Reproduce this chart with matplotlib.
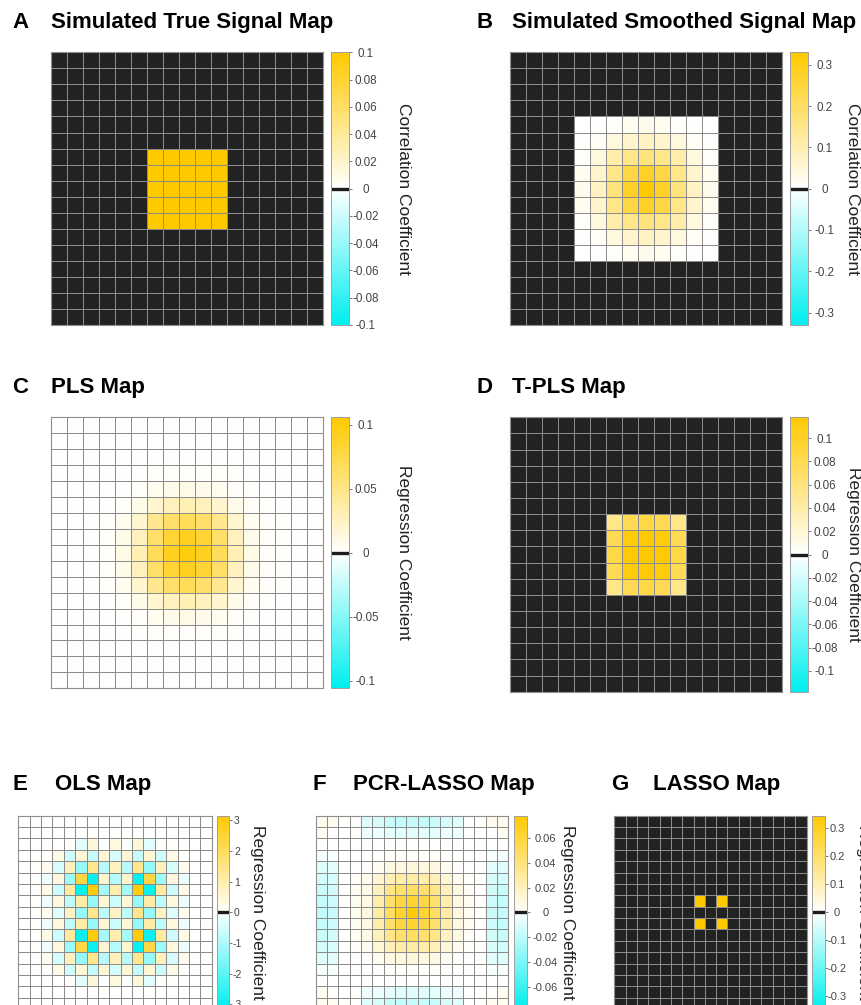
import numpy as np
import matplotlib
matplotlib.use("Agg")
import matplotlib.pyplot as plt
from matplotlib.colors import LinearSegmentedColormap, Normalize
from matplotlib.cm import ScalarMappable

# ---------------- data (17 x 17 maps) ----------------
A_MAP = [
 [0,0,0,0,0,0,0,0,0,0,0,0,0,0,0,0,0],
 [0,0,0,0,0,0,0,0,0,0,0,0,0,0,0,0,0],
 [0,0,0,0,0,0,0,0,0,0,0,0,0,0,0,0,0],
 [0,0,0,0,0,0,0,0,0,0,0,0,0,0,0,0,0],
 [0,0,0,0,0,0,0,0,0,0,0,0,0,0,0,0,0],
 [0,0,0,0,0,0,0,0,0,0,0,0,0,0,0,0,0],
 [0,0,0,0,0,0,.1,.1,.1,.1,.1,0,0,0,0,0,0],
 [0,0,0,0,0,0,.1,.1,.1,.1,.1,0,0,0,0,0,0],
 [0,0,0,0,0,0,.1,.1,.1,.1,.1,0,0,0,0,0,0],
 [0,0,0,0,0,0,.1,.1,.1,.1,.1,0,0,0,0,0,0],
 [0,0,0,0,0,0,.1,.1,.1,.1,.1,0,0,0,0,0,0],
 [0,0,0,0,0,0,0,0,0,0,0,0,0,0,0,0,0],
 [0,0,0,0,0,0,0,0,0,0,0,0,0,0,0,0,0],
 [0,0,0,0,0,0,0,0,0,0,0,0,0,0,0,0,0],
 [0,0,0,0,0,0,0,0,0,0,0,0,0,0,0,0,0],
 [0,0,0,0,0,0,0,0,0,0,0,0,0,0,0,0,0],
 [0,0,0,0,0,0,0,0,0,0,0,0,0,0,0,0,0],
]

B_MAP = [
 [0,0,0,0,0,0,0,0,0,0,0,0,0,0,0,0,0],
 [0,0,0,0,0,0,0,0,0,0,0,0,0,0,0,0,0],
 [0,0,0,0,0,0,0,0,0,0,0,0,0,0,0,0,0],
 [0,0,0,0,0,0,0,0,0,0,0,0,0,0,0,0,0],
 [0,0,0,0,.002,.004,.008,.020,.025,.020,.008,.004,.002,0,0,0,0],
 [0,0,0,0,.004,.015,.045,.065,.075,.065,.045,.015,.004,0,0,0,0],
 [0,0,0,0,.008,.045,.110,.150,.170,.150,.110,.045,.008,0,0,0,0],
 [0,0,0,0,.020,.065,.150,.240,.280,.240,.150,.065,.020,0,0,0,0],
 [0,0,0,0,.025,.075,.170,.280,.330,.280,.170,.075,.025,0,0,0,0],
 [0,0,0,0,.020,.065,.150,.240,.280,.240,.150,.065,.020,0,0,0,0],
 [0,0,0,0,.008,.045,.110,.150,.170,.150,.110,.045,.008,0,0,0,0],
 [0,0,0,0,.004,.015,.045,.065,.075,.065,.045,.015,.004,0,0,0,0],
 [0,0,0,0,.002,.004,.008,.020,.025,.020,.008,.004,.002,0,0,0,0],
 [0,0,0,0,0,0,0,0,0,0,0,0,0,0,0,0,0],
 [0,0,0,0,0,0,0,0,0,0,0,0,0,0,0,0,0],
 [0,0,0,0,0,0,0,0,0,0,0,0,0,0,0,0,0],
 [0,0,0,0,0,0,0,0,0,0,0,0,0,0,0,0,0],
]

C_MAP = [
 [.001,.001,.001,.001,.001,.001,.001,.001,.001,.001,.001,.001,.001,.001,.001,.001,.001],
 [.001,.001,.001,.001,.001,.001,.001,.001,.001,.001,.001,.001,.001,.001,.001,.001,.001],
 [.001,.001,.001,.001,.001,.001,.001,.001,.001,.001,.001,.001,.001,.001,.001,.001,.001],
 [.001,.001,.001,.001,.001,.001,.002,.002,.002,.002,.002,.001,.001,.001,.001,.001,.001],
 [.001,.001,.001,.001,.001,.003,.006,.009,.010,.009,.006,.003,.001,.001,.001,.001,.001],
 [.001,.001,.001,.001,.003,.009,.020,.027,.030,.027,.020,.009,.003,.001,.001,.001,.001],
 [.001,.001,.001,.002,.006,.020,.046,.062,.068,.062,.046,.020,.006,.002,.001,.001,.001],
 [.001,.001,.001,.003,.009,.027,.062,.084,.092,.084,.062,.027,.009,.003,.001,.001,.001],
 [.001,.001,.001,.003,.010,.030,.068,.092,.100,.092,.068,.030,.010,.003,.001,.001,.001],
 [.001,.001,.001,.003,.009,.027,.062,.084,.092,.084,.062,.027,.009,.003,.001,.001,.001],
 [.001,.001,.001,.002,.006,.020,.046,.062,.068,.062,.046,.020,.006,.002,.001,.001,.001],
 [.001,.001,.001,.001,.003,.009,.020,.027,.030,.027,.020,.009,.003,.001,.001,.001,.001],
 [.001,.001,.001,.001,.001,.003,.006,.009,.010,.009,.006,.003,.001,.001,.001,.001,.001],
 [.001,.001,.001,.001,.001,.001,.002,.002,.002,.002,.002,.001,.001,.001,.001,.001,.001],
 [.001,.001,.001,.001,.001,.001,.001,.001,.001,.001,.001,.001,.001,.001,.001,.001,.001],
 [.001,.001,.001,.001,.001,.001,.001,.001,.001,.001,.001,.001,.001,.001,.001,.001,.001],
 [.001,.001,.001,.001,.001,.001,.001,.001,.001,.001,.001,.001,.001,.001,.001,.001,.001],
]

D_MAP = [
 [0,0,0,0,0,0,0,0,0,0,0,0,0,0,0,0,0],
 [0,0,0,0,0,0,0,0,0,0,0,0,0,0,0,0,0],
 [0,0,0,0,0,0,0,0,0,0,0,0,0,0,0,0,0],
 [0,0,0,0,0,0,0,0,0,0,0,0,0,0,0,0,0],
 [0,0,0,0,0,0,0,0,0,0,0,0,0,0,0,0,0],
 [0,0,0,0,0,0,0,0,0,0,0,0,0,0,0,0,0],
 [0,0,0,0,0,0,.055,.080,.085,.080,.055,0,0,0,0,0,0],
 [0,0,0,0,0,0,.080,.112,.116,.112,.080,0,0,0,0,0,0],
 [0,0,0,0,0,0,.085,.116,.118,.116,.085,0,0,0,0,0,0],
 [0,0,0,0,0,0,.080,.112,.116,.112,.080,0,0,0,0,0,0],
 [0,0,0,0,0,0,.055,.080,.085,.080,.055,0,0,0,0,0,0],
 [0,0,0,0,0,0,0,0,0,0,0,0,0,0,0,0,0],
 [0,0,0,0,0,0,0,0,0,0,0,0,0,0,0,0,0],
 [0,0,0,0,0,0,0,0,0,0,0,0,0,0,0,0,0],
 [0,0,0,0,0,0,0,0,0,0,0,0,0,0,0,0,0],
 [0,0,0,0,0,0,0,0,0,0,0,0,0,0,0,0,0],
 [0,0,0,0,0,0,0,0,0,0,0,0,0,0,0,0,0],
]

E_MAP = [
 [0,0,0,0,0,0,0,0,0,0,0,0,0,0,0,0,0],
 [0,0,0,0,0,0,0,0,0,0,0,0,0,0,0,0,0],
 [0,0,0,0,0.05,-0.35,0.45,-0.05,0.35,-0.05,0.45,-0.35,0.05,0,0,0,0],
 [0,0,0,0.3,-0.6,0.5,-0.7,0.5,-0.5,0.5,-0.7,0.5,-0.6,0.3,0,0,0],
 [0,0,0.2,-0.5,0.8,-1.3,1.4,-0.9,0.8,-0.9,1.4,-1.3,0.8,-0.5,0.2,0,0],
 [0,0,-0.2,0.4,-1.2,2.3,-3.0,0.6,-0.9,0.6,-3.0,2.3,-1.2,0.4,-0.2,0,0],
 [0,0,0.3,-0.6,1.2,-3.0,3.0,-1.1,1.0,-1.1,3.0,-3.0,1.2,-0.6,0.3,0,0],
 [0,0,-0.2,0.4,-0.8,1.1,-1.3,0.5,-0.6,0.5,-1.3,1.1,-0.8,0.4,-0.2,0,0],
 [0,0,0.2,-0.4,0.7,-1.3,1.4,-0.8,0.7,-0.8,1.4,-1.3,0.7,-0.4,0.2,0,0],
 [0,0,-0.2,0.4,-0.8,1.1,-1.3,0.5,-0.6,0.5,-1.3,1.1,-0.8,0.4,-0.2,0,0],
 [0,0,0.3,-0.6,1.2,-3.0,3.0,-1.1,1.0,-1.1,3.0,-3.0,1.2,-0.6,0.3,0,0],
 [0,0,-0.2,0.4,-1.2,2.3,-3.0,0.6,-0.9,0.6,-3.0,2.3,-1.2,0.4,-0.2,0,0],
 [0,0,0.2,-0.5,0.8,-1.3,1.4,-0.9,0.8,-0.9,1.4,-1.3,0.8,-0.5,0.2,0,0],
 [0,0,0,0.3,-0.6,0.5,-0.7,0.5,-0.5,0.5,-0.7,0.5,-0.6,0.3,0,0,0],
 [0,0,0,0,0.05,-0.35,0.45,-0.05,0.35,-0.05,0.45,-0.35,0.05,0,0,0,0],
 [0,0,0,0,0,0,0,0,0,0,0,0,0,0,0,0,0],
 [0,0,0,0,0,0,0,0,0,0,0,0,0,0,0,0,0],
]

F_MAP = [
 [.005,.005,.0005,.0005,-.010,-.012,-.016,-.018,-.018,-.018,-.016,-.012,-.010,.0005,.0005,.005,.005],
 [.004,.001,.0005,.0005,-.005,-.006,-.008,-.009,-.009,-.009,-.008,-.006,-.005,.0005,.0005,.001,.004],
 [0,0,0,0,0,0,0,0,0,0,0,0,0,0,0,0,0],
 [-.003,-.002,0,.0005,.0005,.001,.002,.002,.002,.002,.002,.001,.0005,.0005,0,-.002,-.003],
 [-.010,-.008,0,0,.001,.004,.008,.010,.011,.010,.008,.004,.001,0,0,-.008,-.010],
 [-.013,-.012,0,.002,.005,.013,.021,.026,.028,.026,.021,.013,.005,.002,0,-.012,-.013],
 [-.016,-.014,0,.003,.008,.020,.036,.044,.048,.044,.036,.020,.008,.003,0,-.014,-.016],
 [-.018,-.015,0,.004,.009,.026,.044,.057,.063,.057,.044,.026,.009,.004,0,-.015,-.018],
 [-.018,-.016,0,.004,.010,.028,.048,.063,.075,.063,.048,.028,.010,.004,0,-.016,-.018],
 [-.018,-.015,0,.004,.009,.026,.044,.057,.063,.057,.044,.026,.009,.004,0,-.015,-.018],
 [-.016,-.014,0,.003,.008,.020,.036,.044,.048,.044,.036,.020,.008,.003,0,-.014,-.016],
 [-.013,-.012,0,.002,.005,.013,.021,.026,.028,.026,.021,.013,.005,.002,0,-.012,-.013],
 [-.010,-.008,0,0,.001,.004,.008,.010,.011,.010,.008,.004,.001,0,0,-.008,-.010],
 [-.003,-.002,0,.0005,.0005,.001,.002,.002,.002,.002,.002,.001,.0005,.0005,0,-.002,-.003],
 [0,0,0,0,0,0,0,0,0,0,0,0,0,0,0,0,0],
 [.004,.001,.0005,.0005,-.005,-.006,-.008,-.009,-.009,-.009,-.008,-.006,-.005,.0005,.0005,.001,.004],
 [.005,.005,.0005,.0005,-.010,-.012,-.016,-.018,-.018,-.018,-.016,-.012,-.010,.0005,.0005,.005,.005],
]

G_MAP = [
 [0,0,0,0,0,0,0,0,0,0,0,0,0,0,0,0,0],
 [0,0,0,0,0,0,0,0,0,0,0,0,0,0,0,0,0],
 [0,0,0,0,0,0,0,0,0,0,0,0,0,0,0,0,0],
 [0,0,0,0,0,0,0,0,0,0,0,0,0,0,0,0,0],
 [0,0,0,0,0,0,0,0,0,0,0,0,0,0,0,0,0],
 [0,0,0,0,0,0,0,0,0,0,0,0,0,0,0,0,0],
 [0,0,0,0,0,0,0,0,0,0,0,0,0,0,0,0,0],
 [0,0,0,0,0,0,0,.345,0,.345,0,0,0,0,0,0,0],
 [0,0,0,0,0,0,0,0,0,0,0,0,0,0,0,0,0],
 [0,0,0,0,0,0,0,.345,0,.345,0,0,0,0,0,0,0],
 [0,0,0,0,0,0,0,0,0,0,0,0,0,0,0,0,0],
 [0,0,0,0,0,0,0,0,0,0,0,0,0,0,0,0,0],
 [0,0,0,0,0,0,0,0,0,0,0,0,0,0,0,0,0],
 [0,0,0,0,0,0,0,0,0,0,0,0,0,0,0,0,0],
 [0,0,0,0,0,0,0,0,0,0,0,0,0,0,0,0,0],
 [0,0,0,0,0,0,0,0,0,0,0,0,0,0,0,0,0],
 [0,0,0,0,0,0,0,0,0,0,0,0,0,0,0,0,0],
]

TICKS_A = [0.1, 0.08, 0.06, 0.04, 0.02, 0, -0.02, -0.04, -0.06, -0.08, -0.1]
LABELS_A = ["0.1", "0.08", "0.06", "0.04", "0.02", "0", "-0.02", "-0.04", "-0.06", "-0.08", "-0.1"]
TICKS_B = [0.3, 0.2, 0.1, 0, -0.1, -0.2, -0.3]
LABELS_B = ["0.3", "0.2", "0.1", "0", "-0.1", "-0.2", "-0.3"]
TICKS_C = [0.1, 0.05, 0, -0.05, -0.1]
LABELS_C = ["0.1", "0.05", "0", "-0.05", "-0.1"]
TICKS_E = [3, 2, 1, 0, -1, -2, -3]
LABELS_E = ["3", "2", "1", "0", "-1", "-2", "-3"]
TICKS_F = [0.06, 0.04, 0.02, 0, -0.02, -0.04, -0.06]
LABELS_F = ["0.06", "0.04", "0.02", "0", "-0.02", "-0.04", "-0.06"]

# ---------------- figure ----------------
W, H = 861, 1005
fig = plt.figure(figsize=(W / 100, H / 100), dpi=100)
fig.patch.set_facecolor("white")

FONT = ["Liberation Sans", "DejaVu Sans"]
cmap = LinearSegmentedColormap.from_list("cwg", ["#00EEEE", "#FFFFFF", "#FFC900"])
cmap.set_bad("#222222")
PT = 100 / 72.0


def ax_px(x0, y0, x1, y1):
    return fig.add_axes([x0 / W, 1 - y1 / H, (x1 - x0) / W, (y1 - y0) / H])


def panel(data, vmax, ticks, labels, heat, cbar, mask_zero, letter, letter_x,
          title, title_x, base_y, label, label_x, tick_cx, tick_fs):
    arr = np.array(data, dtype=float)
    if mask_zero:
        arr = np.ma.masked_equal(arr, 0.0)
    norm = Normalize(-vmax, vmax)
    ax = ax_px(*heat)
    n = arr.shape[0]
    ax.pcolormesh(np.arange(n + 1), np.arange(n + 1), arr, cmap=cmap, norm=norm,
                  edgecolors="#8c8c8c", linewidth=0.6)
    ax.set_xlim(0, n)
    ax.set_ylim(n, 0)
    ax.set_xticks([])
    ax.set_yticks([])
    for s in ax.spines.values():
        s.set_color("#909090")
        s.set_linewidth(0.8)

    cax = ax_px(*cbar)
    cb = fig.colorbar(ScalarMappable(norm=norm, cmap=cmap), cax=cax)
    cb.outline.set_edgecolor("#a0a0a0")
    cb.outline.set_linewidth(0.7)
    tick_len = 1.8
    pad_px = tick_cx - cbar[2] - tick_len * PT
    cax.set_yticks(ticks, labels=labels, ha="center", fontfamily=FONT, color="#333333")
    cax.tick_params(axis="y", length=tick_len, width=0.5, direction="out",
                    pad=pad_px / PT, labelsize=tick_fs, colors="#444444")
    cax.axhline(0, color="#1c1c1c", lw=2.4)

    cy = (cbar[1] + cbar[3]) / 2
    fig.text(label_x / W, 1 - cy / H, label, rotation=-90, ha="center", va="center",
             fontsize=12.5, color="#222222", fontfamily=FONT)
    fig.text(letter_x / W, 1 - base_y / H, letter, fontsize=16, fontweight="bold",
             ha="left", va="baseline", fontfamily=FONT)
    fig.text(title_x / W, 1 - base_y / H, title, fontsize=16, fontweight="bold",
             ha="left", va="baseline", fontfamily=FONT)


panel(A_MAP, 0.1, TICKS_A, LABELS_A, (50.7, 52.3, 323.3, 325.0), (331.0, 52.3, 349.0, 325.0),
      True, "A", 12, "Simulated True Signal Map", 51, 28.3,
      "Correlation Coefficient", 403.5, 366, 8.4)
panel(B_MAP, 0.33, TICKS_B, LABELS_B, (510.3, 52.3, 782.3, 325.0), (790.0, 52.3, 808.3, 325.0),
      True, "B", 476.5, "Simulated Smoothed Signal Map", 511.5, 28.3,
      "Correlation Coefficient", 852.5, 824.5, 8.4)
panel(C_MAP, 0.106, TICKS_C, LABELS_C, (50.7, 417.3, 323.3, 688.3), (331.0, 417.3, 349.0, 688.3),
      False, "C", 12, "PLS Map", 51, 393.3,
      "Regression Coefficient", 403.5, 366, 8.4)
panel(D_MAP, 0.118, TICKS_A, LABELS_A, (510.3, 417.3, 782.3, 691.7), (790.0, 417.3, 808.3, 691.7),
      True, "D", 476.5, "T-PLS Map", 511.5, 393.3,
      "Regression Coefficient", 853, 824.5, 8.4)
panel(E_MAP, 3.15, TICKS_E, LABELS_E, (18.3, 815.7, 211.7, 1009.0), (216.7, 815.7, 229.3, 1009.0),
      False, "E", 12, "OLS Map", 55, 790,
      "Regression Coefficient", 257, 237, 7.5)
panel(F_MAP, 0.078, TICKS_F, LABELS_F, (315.7, 815.7, 508.3, 1009.0), (514.0, 815.7, 526.7, 1009.0),
      False, "F", 313, "PCR-LASSO Map", 352.7, 790,
      "Regression Coefficient", 567, 545.5, 8.0)
panel(G_MAP, 0.345, TICKS_B, LABELS_B, (614.3, 815.7, 806.7, 1009.0), (812.3, 815.7, 825.0, 1009.0),
      True, "G", 611.5, "LASSO Map", 652.7, 790,
      "Regression Coefficient", 864, 837, 8.0)

fig.savefig("out.png", dpi=100)
